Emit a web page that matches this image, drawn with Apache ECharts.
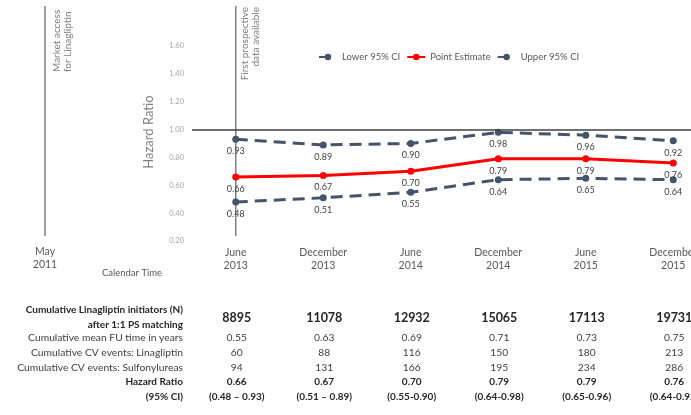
<!DOCTYPE html>
<html>
<head>
<meta charset="utf-8">
<script src="https://cdn.jsdelivr.net/npm/echarts@6/dist/echarts.min.js"></script>
<style>
  html, body { margin: 0; padding: 0; background: #ffffff; }
  #chart { width: 691px; height: 415px; }
</style>
</head>
<body>
<div id="chart"></div>
<script>
// Calendar time points of the cumulative analyses
const periods = ['June\n2013', 'December\n2013', 'June\n2014', 'December\n2014', 'June\n2015', 'December\n2015'];

// Hazard ratio estimates with 95% confidence bounds
const lowerCI = [0.48, 0.51, 0.55, 0.64, 0.65, 0.64];
const pointEstimate = [0.66, 0.67, 0.70, 0.79, 0.79, 0.76];
const upperCI = [0.93, 0.89, 0.90, 0.98, 0.96, 0.92];

// Hazard ratio axis ticks
const yMin = 0.2, yMax = 1.6, yStep = 0.2;

// Table rows under the chart
const initiators = [8895, 11078, 12932, 15065, 17113, 19731];
const meanFollowUp = ['0.55', '0.63', '0.69', '0.71', '0.73', '0.75'];
const eventsLinagliptin = [60, 88, 116, 150, 180, 213];
const eventsSulfonylureas = [94, 131, 166, 195, 234, 286];
const ciText = ['(0.48 \u2013 0.93)', '(0.51 \u2013 0.89)', '(0.55-0.90)', '(0.64-0.98)', '(0.65-0.96)', '(0.64-0.92)'];

const FONT = 'Lato, "Open Sans", sans-serif';
const CI_COLOR = '#44546a';
const PE_COLOR = '#ff0000';

const chart = echarts.init(document.getElementById('chart'), null, { renderer: 'canvas' });

function labelCfg() {
  return {
    show: true,
    position: 'bottom',
    distance: 4,
    fontFamily: FONT,
    fontSize: 9,
    color: '#404040',
    formatter: p => p.value.toFixed(2)
  };
}

const option = {
  backgroundColor: '#ffffff',
  animation: false,
  textStyle: { fontFamily: FONT },
  grid: { left: 192, top: 46, width: 525, height: 195, outerBoundsMode: 'none', containLabel: false },
  legend: {
    left: 313,
    top: 47,
    itemWidth: 18,
    itemHeight: 8,
    itemGap: 6,
    textStyle: { fontFamily: FONT, fontSize: 9.5, color: '#595959' },
    data: ['Lower 95% CI', 'Point Estimate', 'Upper 95% CI']
  },
  xAxis: {
    type: 'category',
    data: periods,
    boundaryGap: true,
    axisLine: { show: false },
    axisTick: { show: false },
    axisLabel: {
      margin: 5,
      fontFamily: FONT,
      fontSize: 10.5,
      lineHeight: 13,
      color: '#595959'
    }
  },
  yAxis: {
    type: 'value',
    min: yMin,
    max: yMax,
    interval: yStep,
    axisLine: { show: false },
    axisTick: { show: false },
    splitLine: { show: false },
    axisLabel: {
      margin: 8,
      fontFamily: FONT,
      fontSize: 7.5,
      color: '#a6a6a6',
      formatter: v => v.toFixed(2)
    }
  },
  series: [
    {
      name: 'Lower 95% CI',
      type: 'line',
      data: lowerCI,
      symbol: 'circle',
      symbolSize: 7,
      itemStyle: { color: CI_COLOR },
      lineStyle: { color: CI_COLOR, width: 3, type: [12, 7] },
      label: labelCfg(),
      z: 3
    },
    {
      name: 'Point Estimate',
      type: 'line',
      data: pointEstimate,
      symbol: 'circle',
      symbolSize: 7,
      itemStyle: { color: PE_COLOR },
      lineStyle: { color: PE_COLOR, width: 3 },
      label: labelCfg(),
      markLine: {
        silent: true,
        symbol: 'none',
        label: { show: false },
        lineStyle: { color: '#404040', width: 1.5, type: 'solid' },
        data: [{ yAxis: 1.0 }]
      },
      z: 4
    },
    {
      name: 'Upper 95% CI',
      type: 'line',
      data: upperCI,
      symbol: 'circle',
      symbolSize: 7,
      itemStyle: { color: CI_COLOR },
      lineStyle: { color: CI_COLOR, width: 3, type: [12, 7] },
      label: labelCfg(),
      z: 3
    }
  ]
};

chart.setOption(option);

// Pixel positions of each analysis time point, taken from the category axis
const xs = periods.map((_, i) => chart.convertToPixel({ xAxisIndex: 0 }, i));
const yBottom = chart.convertToPixel({ yAxisIndex: 0 }, yMin) - 5;

const graphics = [];

function text(x, y, str, opts) {
  graphics.push({
    type: 'text',
    x: x,
    y: y,
    rotation: opts.rotation || 0,
    silent: true,
    style: {
      text: str,
      fontFamily: FONT,
      fontSize: opts.size || 9.5,
      fontWeight: opts.bold ? 'bold' : 'normal',
      fill: opts.color || '#404040',
      align: opts.align || 'center',
      verticalAlign: 'middle'
    }
  });
}

function vline(x, y1, y2) {
  graphics.push({
    type: 'line',
    silent: true,
    shape: { x1: x, y1: y1, x2: x, y2: y2 },
    style: { stroke: '#7f7f7f', lineWidth: 1.5 }
  });
}

// Market access marker, to the left of the plotted period
const mayX = 45;
vline(mayX, 6, yBottom);
text(57, 72, 'Market access', { rotation: Math.PI / 2, align: 'left', size: 10, color: '#7f7f7f' });
text(68, 72, 'for Linagliptin', { rotation: Math.PI / 2, align: 'left', size: 10, color: '#7f7f7f' });
text(mayX, 252, 'May', { size: 10.5, color: '#595959' });
text(mayX, 265, '2011', { size: 10.5, color: '#595959' });

// First prospective data marker at the first analysis
vline(xs[0], 6, yBottom);
text(xs[0] + 9, 7, 'First prospective', { rotation: Math.PI / 2, align: 'right', size: 10, color: '#7f7f7f' });
text(xs[0] + 20, 7, 'data available', { rotation: Math.PI / 2, align: 'right', size: 10, color: '#7f7f7f' });

// Axis titles
text(149, 132, 'Hazard Ratio', { rotation: Math.PI / 2, size: 13, color: '#7f7f7f' });
text(132, 273, 'Calendar Time', { size: 9.5, color: '#595959' });

// Summary table
const labelRight = 183;
const LBL = 10.3;
text(labelRight, 310, 'Cumulative Linagliptin initiators (N)', { align: 'right', bold: true, size: 10, color: '#262626' });
text(labelRight, 325, 'after 1:1 PS matching', { align: 'right', bold: true, size: 10, color: '#262626' });
text(labelRight, 338, 'Cumulative mean FU time in years', { align: 'right', size: LBL, color: '#404040' });
text(labelRight, 353, 'Cumulative CV events: Linagliptin', { align: 'right', size: LBL, color: '#404040' });
text(labelRight, 368, 'Cumulative CV events: Sulfonylureas', { align: 'right', size: LBL, color: '#404040' });
text(labelRight, 382, 'Hazard Ratio', { align: 'right', bold: true, size: 10, color: '#262626' });
text(labelRight, 397, '(95% CI)', { align: 'right', bold: true, size: 10, color: '#262626' });

xs.forEach((x, i) => {
  const cx = x + 1;
  text(cx, 318, String(initiators[i]), { bold: true, size: 12.5, color: '#262626' });
  text(cx, 338, meanFollowUp[i], { size: LBL, color: '#404040' });
  text(cx, 353, String(eventsLinagliptin[i]), { size: LBL, color: '#404040' });
  text(cx, 368, String(eventsSulfonylureas[i]), { size: LBL, color: '#404040' });
  text(cx, 382, pointEstimate[i].toFixed(2), { bold: true, size: 10, color: '#262626' });
  text(cx, 397, ciText[i], { bold: true, size: 10, color: '#262626' });
});

chart.setOption({ graphic: { elements: graphics } });
</script>
</body>
</html>
